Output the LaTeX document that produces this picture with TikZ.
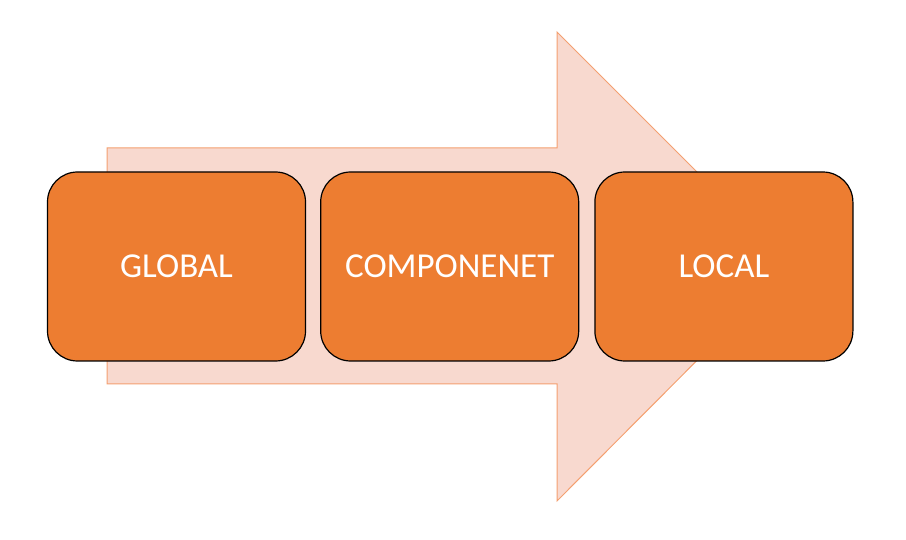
\documentclass[tikz,border=0pt]{standalone}
\usepackage{fontspec}
\setmainfont{Carlito}
\usetikzlibrary{positioning}
\definecolor{boxorange}{HTML}{ED7D31}
\definecolor{arrowfill}{HTML}{F8D9CF}
\definecolor{arrowline}{HTML}{F4A070}
\begin{document}
\begin{tikzpicture}
[
 x=1pt,
 y=-1pt,
 font=\fontsize{35}{42}\selectfont,
 stage/.style={draw=black,fill=boxorange,text=white,rounded corners=30pt,line width=1.2pt,minimum width=258pt,minimum height=189pt},
 flow/.style={draw=arrowline,fill=arrowfill,line width=1pt}
]
\useasboundingbox (0,0) rectangle (906,540);
% big arrow behind the stages
\draw [flow] (107,148) -- (557,148) -- (557,32) -- (791,266) -- (557,501) -- (557,384) -- (107,384) -- cycle;
\node (global) [stage] at (176.5,266.5) {GLOBAL};
\node (componenet) [stage,right=14pt of global] {COMPONENET};
\node (local) [stage,right=15pt of componenet] {LOCAL};
\end{tikzpicture}
\end{document}
